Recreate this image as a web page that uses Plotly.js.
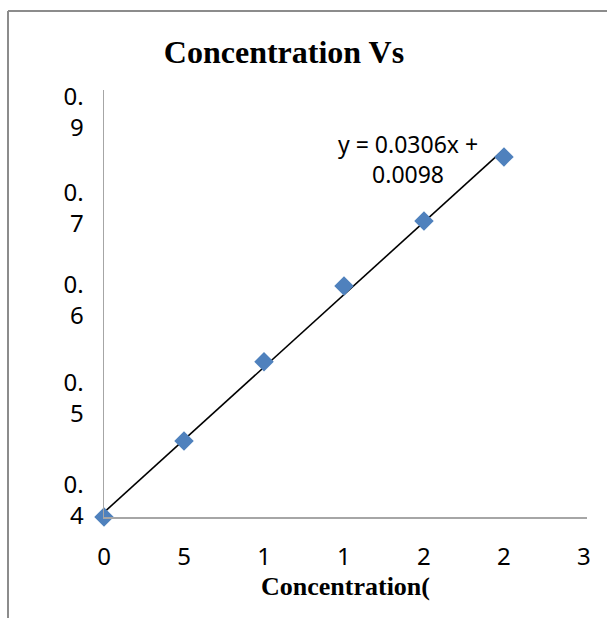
<!DOCTYPE html>
<html>
<head>
<meta charset="utf-8">
<script src="https://cdn.plot.ly/plotly-3.0.1.min.js"></script>
<style>html,body{margin:0;padding:0;background:#fff;}#chart{width:607px;height:618px;}</style>
</head>
<body>
<div id="chart"></div>
<script>
// Data
var concentration = [0, 5, 10, 15, 20, 25];
var absorbance = [0.0, 0.160, 0.327, 0.487, 0.624, 0.759];
var slope = 0.0306, intercept = 0.0098;
var trendX = [0, 25];
var trendY = trendX.map(function (x) { return slope * x + intercept; });

var xTickVals = [0, 5, 10, 15, 20, 25, 30];
var xTickText = ['0', '5', '1', '1', '2', '2', '3'];
var yTickVals = [0.036, 0.251, 0.457, 0.651, 0.854];
var yTickText = ['0.<br>4', '0.<br>5', '0.<br>6', '0.<br>7', '0.<br>9'];

var titleText = 'Concentration Vs';
var xTitleText = 'Concentration(';
var eqText = 'y = 0.0306x +<br>0.0098';

var W = 607, H = 618, L = 104, R = 20, T = 90, B = 101;
function px(x) { return (x - L) / (W - L - R); }
function py(y) { return (H - B - y) / (H - T - B); }

var traces = [
  {
    x: trendX, y: trendY, mode: 'lines', type: 'scatter',
    line: { color: '#000000', width: 1.6 }, hoverinfo: 'skip'
  },
  {
    x: concentration, y: absorbance, mode: 'markers', type: 'scatter',
    marker: { symbol: 'diamond', size: 15, color: '#4f81bd', line: { width: 0 } },
    cliponaxis: false
  }
];

var layout = {
  width: W, height: H,
  margin: { l: L, r: R, t: T, b: B, pad: 0 },
  showlegend: false,
  paper_bgcolor: '#ffffff', plot_bgcolor: '#ffffff',
  title: {
    text: '<b>' + titleText + '</b>',
    font: { family: 'Liberation Serif, Times New Roman, serif', size: 32, color: '#000' },
    x: px(284), xref: 'paper', xanchor: 'center',
    y: 1 - 52 / H, yref: 'container', yanchor: 'middle'
  },
  xaxis: {
    range: [0, 30.19], showgrid: false, zeroline: false,
    showline: true, linecolor: '#a6a6a6', linewidth: 1.5,
    tickmode: 'array', tickvals: xTickVals, ticktext: xTickText,
    ticks: 'outside', ticklen: 18, tickcolor: 'rgba(0,0,0,0)',
    tickfont: { family: 'Noto Sans, Open Sans, sans-serif', size: 24, color: '#000' },
    title: {
      text: '<b>' + xTitleText + '</b>', standoff: 0,
      font: { family: 'Liberation Serif, Times New Roman, serif', size: 26, color: '#000' }
    },
    fixedrange: true
  },
  yaxis: {
    range: [0, 0.9], showgrid: false, zeroline: false,
    showline: true, linecolor: '#a6a6a6', linewidth: 1.5,
    tickmode: 'array', tickvals: yTickVals, ticktext: yTickText,
    ticks: 'outside', ticklen: 14, tickcolor: 'rgba(0,0,0,0)',
    tickfont: { family: 'Noto Sans, Open Sans, sans-serif', size: 24, color: '#000' },
    fixedrange: true
  },
  annotations: [
    {
      text: eqText, xref: 'paper', yref: 'paper',
      x: px(408), y: py(159), xanchor: 'center', yanchor: 'middle',
      showarrow: false, align: 'center',
      font: { family: 'Noto Sans, Open Sans, sans-serif', size: 23, color: '#000' }
    }
  ],
  shapes: [
    { type: 'line', xref: 'paper', yref: 'paper', x0: px(8), x1: px(8), y0: py(11), y1: py(620), line: { color: '#8c8c8c', width: 2 } },
    { type: 'line', xref: 'paper', yref: 'paper', x0: px(8), x1: px(610), y0: py(11), y1: py(11), line: { color: '#8c8c8c', width: 2 } }
  ]
};

Plotly.newPlot('chart', traces, layout, { displayModeBar: false, staticPlot: true });
</script>
</body>
</html>
